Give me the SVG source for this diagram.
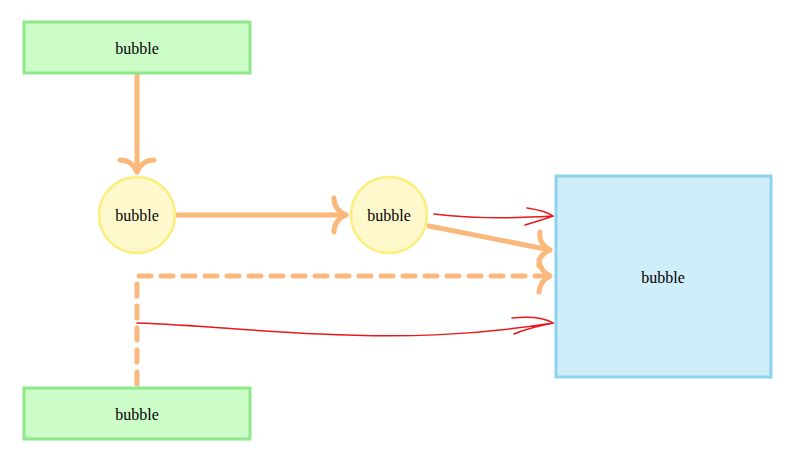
<svg xmlns="http://www.w3.org/2000/svg" width="800" height="467" viewBox="0 0 800 467">
<style>
.g{fill:#ccfcc8;stroke:#8ee88a;stroke-width:3}
.y{fill:#fdf9cc;stroke:#fbee7a;stroke-width:2.5}
.b{fill:#cfeef9;stroke:#8dd3f0;stroke-width:3}
.t{font-family:"Liberation Serif",serif;font-size:16px;fill:#000;text-anchor:middle;dominant-baseline:central}
.o{fill:none;stroke:#fbb87c;stroke-width:5;stroke-linecap:round}
.oh{fill:none;stroke:#fbb87c;stroke-width:5;stroke-linecap:round;stroke-linejoin:round}
.r{fill:none;stroke:#e8181c;stroke-width:1.5;stroke-linecap:round}
</style>
<rect width="800" height="467" fill="#fff"/>
<g id="connectors">
<path class="o" d="M137,75 V172"/>
<path class="oh" d="M120,160 Q132,160 137,172 Q142,160 154,160"/>
<path class="o" d="M177,215 H346"/>
<path class="oh" d="M334,198 Q334,210 346,215 Q334,220 334,232"/>
<path class="o" d="M429,226 L550,250"/>
<path class="oh" d="M540,232 Q538,243 550,250 Q538,255 539,266"/>
<path class="o" d="M137,384 V276 H550" stroke-dasharray="12,10"/>
<path class="oh" d="M539,260 Q540,271 550,276 Q540,281 539,292"/>
<path class="r" d="M434,214 C470,218 500,219 553,216 M527,208 C540,210 548,212 553,216 C545,219 535,222 525,225"/>
<path class="r" d="M137,323 C200,325 250,331 320,334 C400,338 470,336 553,323 M512,318 C530,316 545,318 553,323 C540,326 528,328 514,334"/>
</g>
<g id="n1"><rect class="g" x="24" y="22" width="226" height="51"/><text class="t" x="137" y="48">bubble</text></g>
<g id="n2"><circle class="y" cx="137" cy="215" r="38"/><text class="t" x="137" y="215">bubble</text></g>
<g id="n3"><circle class="y" cx="389" cy="215" r="38"/><text class="t" x="389" y="215">bubble</text></g>
<g id="n4"><rect class="b" x="556" y="176" width="215" height="201"/><text class="t" x="663" y="277">bubble</text></g>
<g id="n5"><rect class="g" x="24" y="388" width="226" height="51"/><text class="t" x="137" y="414">bubble</text></g>
</svg>
